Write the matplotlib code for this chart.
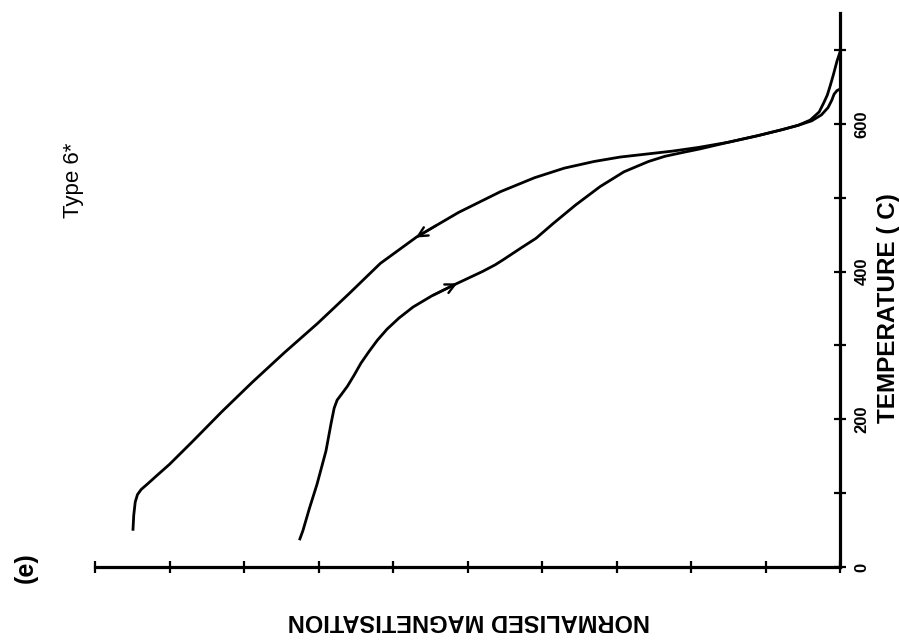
import numpy as np
import matplotlib
matplotlib.use("Agg")
import matplotlib.pyplot as plt

plt.rcParams['font.family'] = ['Liberation Sans', 'DejaVu Sans']

# cooling curve (upper branch), temperature in C, normalised magnetisation
cool_T = [51, 70, 88, 98, 105, 112, 122, 139, 170, 210, 250, 290, 330, 370, 411, 447,
          480, 508, 527, 540, 549, 555, 559, 563, 568, 575, 584, 592, 598, 605, 616,
          628, 639, 652, 666, 685, 697]
cool_M = [0.949, 0.948, 0.946, 0.943, 0.938, 0.930, 0.919, 0.900, 0.869, 0.830, 0.789,
          0.746, 0.701, 0.659, 0.617, 0.568, 0.512, 0.456, 0.410, 0.370, 0.330, 0.295,
          0.260, 0.225, 0.190, 0.150, 0.110, 0.078, 0.056, 0.040, 0.028, 0.022, 0.017,
          0.013, 0.009, 0.004, 0.0]

# heating curve (lower branch)
heat_T = [38, 49, 80, 112, 157, 195, 215, 226, 234, 245, 260, 276, 292, 307, 322, 337,
          352, 367, 382, 400, 409, 416, 424, 432, 445, 465, 490, 515, 535, 549, 556,
          561, 566, 575, 584, 592, 598, 604, 612, 622, 632, 640, 645, 647]
heat_M = [0.725, 0.721, 0.712, 0.702, 0.690, 0.683, 0.679, 0.675, 0.669, 0.661, 0.652,
          0.643, 0.632, 0.621, 0.608, 0.592, 0.573, 0.548, 0.518, 0.480, 0.463, 0.452,
          0.440, 0.428, 0.408, 0.385, 0.355, 0.322, 0.290, 0.257, 0.235, 0.212, 0.188,
          0.150, 0.110, 0.078, 0.056, 0.038, 0.025, 0.016, 0.011, 0.008, 0.004, 0.0]

temp_ticks = [0, 100, 200, 300, 400, 500, 600, 700]
temp_labels = ['0', '', '200', '', '400', '', '600', '']
mag_ticks = [0.1 * i for i in range(11)]

W, H = 899, 643
fig = plt.figure(figsize=(W / 100, H / 100), dpi=100)
ax = fig.add_axes([95 / W, (H - 567) / H, 745 / W, 554 / H])

ax.plot(cool_M, cool_T, color='black', lw=2.0, solid_joinstyle='round')
ax.plot(heat_M, heat_T, color='black', lw=2.0, solid_joinstyle='round')

# direction arrows on each branch
def arrow_on(T, M, t0, t1):
    m0 = np.interp(t0, T, M)
    m1 = np.interp(t1, T, M)
    ax.annotate('', xy=(m1, t1), xytext=(m0, t0),
                arrowprops=dict(arrowstyle='->', color='black', lw=1.7,
                                mutation_scale=17, shrinkA=0, shrinkB=0))

arrow_on(cool_T, cool_M, 462, 446)
arrow_on(heat_T, heat_M, 368, 384)

ax.set_xlim(1.0, 0.0)
ax.set_ylim(0, 750)

for s in ['left', 'top']:
    ax.spines[s].set_visible(False)
for s in ['right', 'bottom']:
    ax.spines[s].set_linewidth(2.3)

ax.yaxis.tick_right()
ax.set_yticks(temp_ticks)
ax.set_yticklabels(temp_labels, rotation=90, va='center', fontsize=12, fontweight='bold')
ax.tick_params(axis='y', direction='inout', length=9, width=1.6, pad=6)
ax.set_xticks(mag_ticks)
ax.set_xticklabels([])
ax.tick_params(axis='x', direction='inout', length=9, width=1.6)

fig.text(888 / W, 1 - 308 / H, 'TEMPERATURE ( C)', rotation=90, ha='center', va='center',
         fontsize=17.5, fontweight='bold')
fig.text(469 / W, 1 - 621 / H, 'NORMALISED MAGNETISATION', rotation=180, ha='center',
         va='center', fontsize=17, fontweight='bold')
fig.text(26 / W, 1 - 568 / H, '(e)', rotation=90, ha='center', va='center',
         fontsize=18, fontweight='bold')
fig.text(73 / W, 1 - 180 / H, 'Type 6*', rotation=90, ha='center', va='center',
         fontsize=16)

fig.savefig('out.png', dpi=100)
